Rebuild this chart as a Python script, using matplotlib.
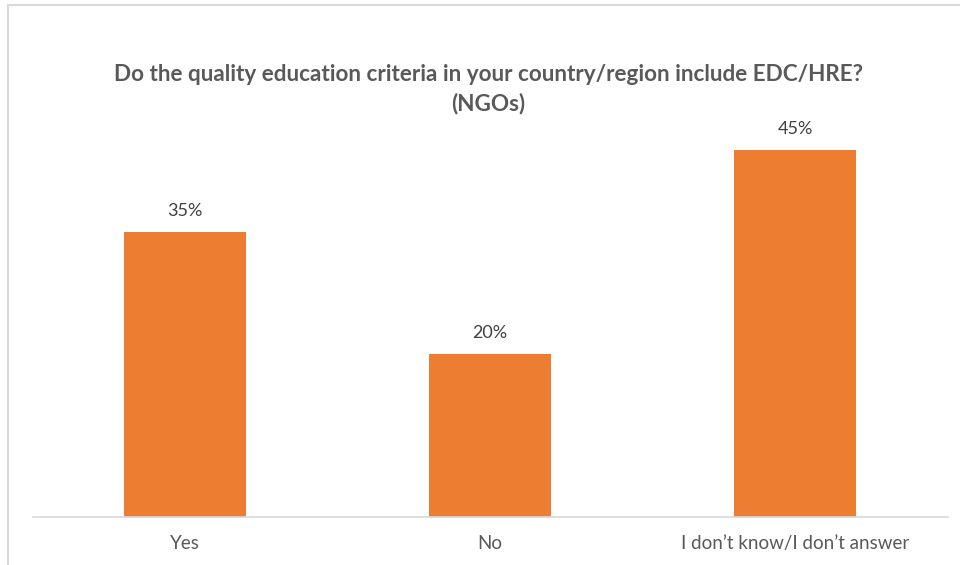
import matplotlib

matplotlib.use("Agg")

import matplotlib.pyplot as plt
from matplotlib.patches import Rectangle

categories = ["Yes", "No", "I don\u2019t know/I don\u2019t answer"]
shares = [35, 20, 45]
value_labels = ["35%", "20%", "45%"]

title = "Do the quality education criteria in your country/region include EDC/HRE?\n(NGOs)"

plt.rcParams["font.family"] = ["Lato", "DejaVu Sans"]

fig = plt.figure(figsize=(9.6, 5.65), dpi=100)
fig.patch.set_facecolor("white")

# light grey chart frame (runs off the right and bottom edges)
fig.patches.append(Rectangle((8 / 960, -0.1), 1.2, 1 - 5 / 565 + 0.1,
                             transform=fig.transFigure, fill=False,
                             edgecolor="#d9d9d9", linewidth=1.5))

ax = fig.add_axes([32.5 / 960, 48 / 565, 915 / 960, 407.5 / 565])
positions = range(len(categories))
bars = ax.bar(positions, shares, width=0.4, color="#ed7d31")

for bar, label in zip(bars, value_labels):
    ax.text(bar.get_x() + bar.get_width() / 2, bar.get_height() + 1.6, label,
            ha="center", va="bottom", fontsize=13, color="#404040")

ax.set_xlim(-0.5, 2.5)
ax.set_ylim(0, 50)
ax.set_xticks(list(positions))
ax.set_xticklabels(categories, fontsize=13.5, color="#595959")
ax.tick_params(axis="x", length=0, pad=13)
ax.set_yticks([])
for side in ["top", "right", "left"]:
    ax.spines[side].set_visible(False)
ax.spines["bottom"].set_color("#d9d9d9")
ax.spines["bottom"].set_linewidth(1.2)

fig.text(488 / 960, 1 - 89 / 565, title, ha="center", va="center",
         fontsize=16.2, fontweight="bold", color="#595959", linespacing=1.4)

fig.savefig("out.png", dpi=100)
